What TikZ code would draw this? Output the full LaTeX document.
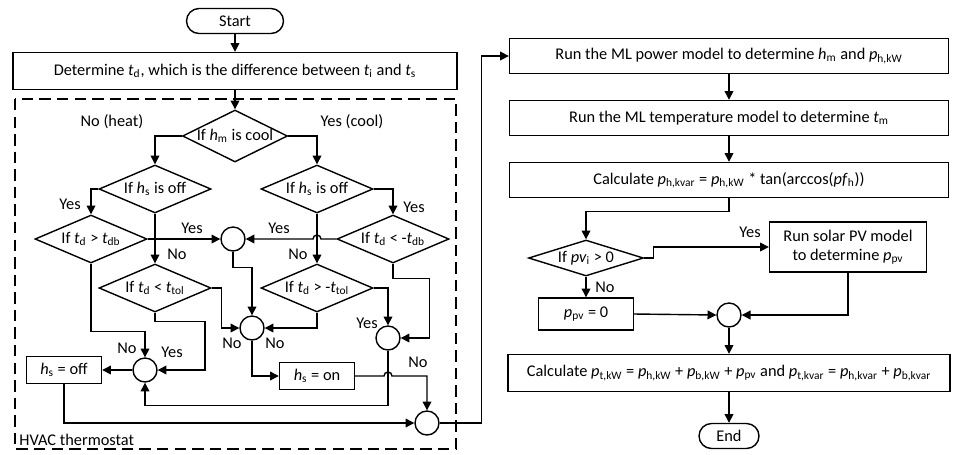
\documentclass[tikz,border=0pt]{standalone}
\usepackage{fontspec}
\setmainfont{Carlito}
\usetikzlibrary{positioning,shapes.geometric,arrows.meta,calc}
\newcommand{\vs}[2]{\textit{#1}\textsubscript{#2}}

\begin{document}
\begin{tikzpicture}[
						x=0.02cm, y=-0.02cm,
						font=\fontsize{9.3}{11}\selectfont,
						line width=0.8pt,
						box/.style={rectangle, draw=black, align=center, inner sep=1pt},
						terminal/.style={rectangle, rounded corners=0.25cm, draw=black,
							minimum height=0.5cm},
						decision/.style={diamond, aspect=2.4, draw=black, align=center, inner sep=-1.5pt,
							minimum width=2.24cm, minimum height=0.96cm},
						junction/.style={circle, draw=black, minimum size=0.48cm, inner sep=0pt},
						lbl/.style={inner sep=1pt},
						arrow/.style={-{Triangle[length=5pt,width=5pt]}}
						]
						\useasboundingbox (0,0) rectangle (955,454);
						\draw[line width=1pt, dash pattern=on 6.5pt off 3.5pt] (15,99) rectangle (456,449);
						\node[lbl, anchor=south west] (hvacLbl) at (17,448) {HVAC thermostat};
						\node[terminal, minimum width=1.94cm] (start) at (235,21) {Start};
						\node[box, minimum width=8.88cm, minimum height=0.74cm] (determine) at (235,71) {Determine \vs{t}{d}, which is the difference between \vs{t}{i} and \vs{t}{s}};
						\node[decision, minimum width=2.1cm, minimum height=1.04cm] (hm) at (235,136) {If \vs{h}{m} is cool};
						\node[decision] (offL) at (155,189) {If \vs{h}{s} is off};
						\node[decision] (offR) at (317,189) {If \vs{h}{s} is off};
						\node[decision] (dbL) at (91,239) {If \vs{t}{d} > \vs{t}{db}};
						\node[decision] (tolL) at (155,288) {If \vs{t}{d} < \vs{t}{tol}};
						\node[decision] (dbR) at (393,239) {If \vs{t}{d} < -\vs{t}{db}};
						\node[decision] (tolR) at (317,288) {If \vs{t}{d} > -\vs{t}{tol}};
						\node[junction] (c1) at (233,239) {};
						\node[junction] (c2) at (252,328) {};
						\node[junction] (c3) at (388,338) {};
						\node[junction] (c4) at (145,370) {};
						\node[junction] (c5) at (427,423) {};
						\node[box, minimum width=1.5cm, minimum height=0.55cm] (offBox) at (64,370) {\vs{h}{s} = off};
						\node[box, minimum width=1.5cm, minimum height=0.55cm] (onBox) at (317,376) {\vs{h}{s} = on};
						\node[box, minimum width=8.78cm, minimum height=0.7cm] (b1) at (729,56) {Run the ML power model to determine \vs{h}{m} and \vs{p}{h,kW}};
						\node[box, minimum width=8.78cm, minimum height=0.7cm] (b2) at (729,118) {Run the ML temperature model to determine \vs{t}{m}};
						\node[box, minimum width=8.78cm, minimum height=0.7cm] (b3) at (729,180) {Calculate \vs{p}{h,kvar} = \vs{p}{h,kW} * tan(arccos(\vs{pf}{h}))};
						\node[decision, minimum width=2.3cm, minimum height=0.72cm, aspect=3.2] (pvq) at (586,258) {If \vs{pv}{i} > 0};
						\node[box, minimum width=3.14cm, minimum height=1cm] (pvBox) at (848,247) {Run solar PV model\\to determine \vs{p}{pv}};
						\node[box, minimum width=1.9cm, minimum height=0.64cm] (zeroBox) at (586,314) {\vs{p}{pv} = 0};
						\node[junction] (c6) at (729,315) {};
						\node[box, minimum width=8.84cm, minimum height=0.74cm] (b4) at (729,373) {Calculate \vs{p}{t,kW} = \vs{p}{h,kW} + \vs{p}{b,kW} + \vs{p}{pv} and \vs{p}{t,kvar} = \vs{p}{h,kvar} + \vs{p}{b,kvar}};
						\node[terminal, minimum width=1.2cm] (end) at (729,436) {End};
						\draw[arrow] (start) -- (determine);
						\draw[arrow] (determine) -- (hm);
						\draw[arrow] (hm.west) -| (offL.north);
						\draw[arrow] (hm.east) -| (offR.north);
						\node[lbl] (noHeat) at (112,122) {No (heat)};
						\node[lbl] (yesCool) at (352,122) {Yes (cool)};
						\draw[arrow] (offL.west) -| (dbL.north);
						\node[lbl] (yes1) at (70,204) {Yes};
						\draw[arrow] (offL.south) -- (tolL.north);
						\node[lbl] (no1) at (177,254) {No};
						\draw[arrow] (dbL.east) -- (c1.west);
						\node[lbl] (yes2) at (192,228) {Yes};
						\draw[arrow] (offR.east) -| (dbR.north);
						\node[lbl] (yes3) at (414,207) {Yes};
						\draw[arrow] (offR.south) -- (tolR.north);
						\node[lbl] (no2) at (298,254) {No};
						\draw[arrow] (dbR.west) -- (321,239) arc[start angle=0, end angle=-180, radius=4] -- (c1.east);
						\node[lbl] (yes4) at (279,228) {Yes};
						\draw[arrow] (c1.south) -- ++(0,16) -| (c2.north);
						\draw[arrow] (tolL.east) -- ++(10,0) |- (c2.west);
						\node[lbl] (no3) at (232,343) {No};
						\draw[arrow] (tolR.south) |- (c2.east);
						\node[lbl] (no4) at (275,343) {No};
						\draw[arrow] (tolR.east) -| (c3.north);
						\node[lbl] (yes5) at (367,323) {Yes};
						\draw[arrow] (dbR.south) -- ++(0,15) -| ([xshift=0.58cm]c3.east) -- (c3.east);
						\draw[arrow] (dbL.south) -- ++(0,68) -| (c4.north);
						\node[lbl] (no5) at (127,348) {No};
						\draw[arrow] (tolL.south) -- ++(0,9) -- ++(50,0) |- (c4.east);
						\node[lbl] (yes6) at (172,352) {Yes};
						\draw[arrow] (c4.west) -- (offBox.east);
						\draw[arrow] (c2.south) |- (onBox.west);
						\draw[arrow] (c3.south) -- ++(0,55) -| (c4.south);
						\draw[arrow] (onBox.east) -- (384,376) arc[start angle=180, end angle=360, radius=4] -| (c5.north);
						\node[lbl] (no6) at (418,362) {No};
						\draw[arrow] (offBox.south) |- (c5.west);
						\draw[arrow] (c5.east) -- ++(42,0) |- (b1.west);
						\draw[arrow] (b1) -- (b2);
						\draw[arrow] (b2) -- (b3);
						\draw[arrow] (b3.south) -- ++(0,13) -| (pvq.north);
						\draw[arrow] (pvq.east) -- ++(9,0) |- (pvBox.west);
						\node[lbl] (yes7) at (750,232) {Yes};
						\draw[arrow] (pvq.south) -- (zeroBox.north);
						\node[lbl] (no7) at (605,287) {No};
						\draw[arrow] (zeroBox.east) -- (c6.west);
						\draw[arrow] (pvBox.south) |- (c6.east);
						\draw[arrow] (c6.south) -- (b4.north);
						\draw[arrow] (b4.south) -- (end.north);
					\end{tikzpicture}
\end{document}
